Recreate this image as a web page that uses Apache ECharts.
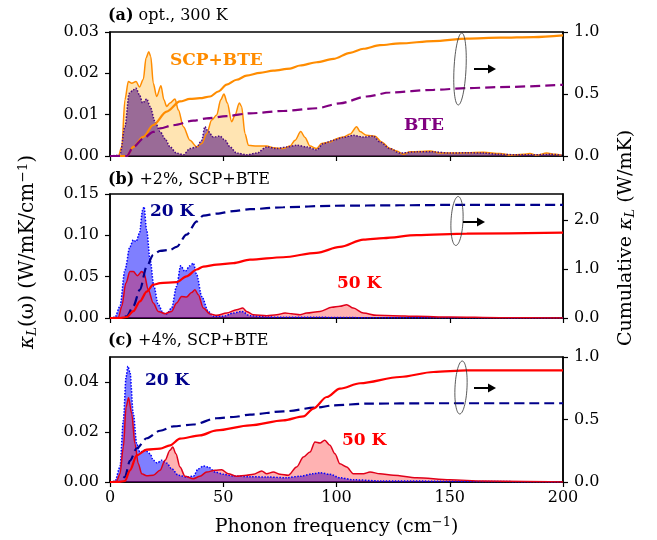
<!DOCTYPE html>
<html>
<head>
<meta charset="utf-8">
<script src="https://cdn.jsdelivr.net/npm/echarts@6/dist/echarts.min.js"></script>
<style>
  html, body { margin: 0; padding: 0; background: #fff; }
  #main { width: 657px; height: 540px; }
</style>
</head>
<body>
<div id="main"></div>
<script>
// x 轴：声子频率 (cm^-1)
var xTicks = [0, 50, 100, 150, 200];

// (a) opt., 300 K —— 谱分辨热导
var specA_scp = [[0,0],[3.7,0],[5.2,0.0022],[6.6,0.0136],[8.1,0.0180],[9.6,0.0176],[11.5,0.0180],[13.0,0.0167],[14.7,0.0185],[15.9,0.0237],[17.1,0.0252],[18.0,0.0241],[19.1,0.0176],[20.6,0.0144],[22.5,0.0170],[23.8,0.0136],[25.0,0.0120],[26.5,0.0128],[28.7,0.0138],[30.2,0.0111],[32.4,0.0071],[35.3,0.0038],[38.3,0.0022],[40.5,0.0030],[42.7,0.0054],[44.9,0.0087],[47.1,0.0099],[48.9,0.0136],[50.3,0.0150],[51.8,0.0128],[53.7,0.0083],[55.2,0.0099],[57.1,0.0128],[58.1,0.0120],[59.6,0.0054],[61.1,0.0026],[64.8,0.0024],[69.2,0.0024],[72.1,0.0020],[76.5,0.0018],[79.5,0.0024],[81.7,0.0038],[84.2,0.0059],[86.1,0.0045],[88.3,0.0024],[91.2,0.0018],[93.4,0.0030],[97.1,0.0034],[100.1,0.0042],[103.0,0.0046],[106.0,0.0053],[108.9,0.0071],[110.4,0.0059],[113.3,0.0050],[117.0,0.0048],[119.9,0.0034],[123.6,0.0018],[126.6,0.0012],[129.5,0.0004],[132.5,0.0010],[136.9,0.0011],[141.3,0.0012],[145.7,0.0007],[151.6,0.0007],[157.5,0.0008],[164.8,0.0009],[172.2,0.0006],[176.6,0.0002],[182.5,0.0004],[185.4,0.0006],[188.4,0.0002],[192.8,0.0007],[196.5,0.0004],[199.4,0.0002]];
var specA_bte = [[0,0],[4.4,0.0002],[6.6,0.0071],[8.5,0.0152],[10.3,0.0160],[11.5,0.0164],[13.0,0.0148],[14.4,0.0128],[16.2,0.0138],[17.7,0.0120],[19.9,0.0083],[22.1,0.0059],[24.3,0.0042],[26.5,0.0022],[29.4,0.0007],[32.4,0.0003],[35.3,0.0018],[38.3,0.0022],[40.5,0.0038],[41.9,0.0071],[43.4,0.0059],[45.6,0.0046],[48.6,0.0048],[50.8,0.0038],[53.0,0.0022],[55.9,0.0007],[60.3,0.0003],[64.8,0.0007],[69.2,0.0022],[73.6,0.0018],[78.0,0.0022],[82.4,0.0026],[86.8,0.0022],[91.2,0.0015],[94.2,0.0030],[98.6,0.0038],[103.0,0.0045],[107.4,0.0050],[111.9,0.0046],[116.3,0.0048],[119.2,0.0034],[123.6,0.0018],[128.0,0.0007],[135.4,0.0010],[142.8,0.0010],[150.1,0.0007],[157.5,0.0008],[164.8,0.0007],[172.2,0.0004],[179.5,0.0003],[187.0,0.0003],[194.3,0.0004],[199.4,0.0002]];
// (a) 累积热导
var cumA_scp = [[0,0],[7.4,0],[10.3,0.073],[14.7,0.154],[19.1,0.25],[25.0,0.358],[30.9,0.44],[35.3,0.46],[39.7,0.466],[44.2,0.48],[47.8,0.52],[51.5,0.575],[55.9,0.615],[60.3,0.648],[66.2,0.67],[72.1,0.688],[79.5,0.705],[83.9,0.73],[91.2,0.756],[98.6,0.783],[106,0.832],[111.9,0.865],[119.2,0.894],[128,0.908],[142.8,0.927],[157.5,0.946],[172.2,0.954],[187,0.959],[200,0.973]];
var cumA_bte = [[0,0],[7.4,0],[10.3,0.073],[14.7,0.141],[19.1,0.195],[22.1,0.222],[28,0.249],[36.8,0.285],[42.7,0.303],[51.5,0.322],[61.8,0.344],[76.5,0.363],[91.2,0.385],[101.5,0.425],[113.3,0.48],[123.6,0.512],[142.8,0.534],[157.5,0.547],[172.2,0.556],[200,0.574]];

// (b) +2%
var specB_20 = [[0,0],[2.2,0.0008],[4.4,0.0141],[6.6,0.0582],[8.8,0.0863],[10.3,0.0944],[11.5,0.0924],[13.0,0.1024],[14.4,0.1305],[15.0,0.1345],[16.2,0.1064],[17.7,0.0703],[19.4,0.0382],[21.3,0.0161],[23.5,0.0060],[25.0,0.0048],[27.2,0.0120],[29.4,0.0382],[31.2,0.0631],[33.1,0.0562],[35.3,0.0631],[36.8,0.0663],[38.3,0.0522],[40.5,0.0261],[43.4,0.0080],[45.6,0.0020],[50,0.0020],[54.5,0.0060],[58.1,0.0080],[61.8,0.0028],[69.2,0.0012],[76.5,0.0008],[91.2,0.0008],[113.3,0.0004],[200,0]];
var specB_50 = [[0,0],[3.7,0.0008],[5.2,0.0141],[7.0,0.0422],[8.8,0.0562],[10.3,0.0562],[12.1,0.0510],[14.0,0.0562],[15.0,0.0542],[16.9,0.0341],[19.1,0.0181],[21.3,0.0080],[24.3,0.0052],[27.2,0.0080],[29.4,0.0181],[31.6,0.0261],[33.8,0.0253],[36.0,0.0309],[37.5,0.0341],[39.0,0.0281],[41.2,0.0120],[44.2,0.0048],[47.1,0.0032],[51.5,0.0060],[55.9,0.0100],[58.6,0.0120],[60.3,0.0080],[63.3,0.0040],[69.2,0.0028],[73.6,0.0040],[77.3,0.0060],[80.2,0.0052],[83.9,0.0040],[86.8,0.0060],[92.7,0.0080],[97.9,0.0129],[101.5,0.0141],[104.5,0.0161],[107.4,0.0120],[111.9,0.0060],[117.7,0.0032],[125.1,0.0028],[135.4,0.0020],[150.1,0.0012],[172,0.0004],[200,0]];
var cumB_20 = [[0,0],[4.4,0],[7.4,0.034],[10.3,0.24],[13.2,0.58],[16.2,1.05],[19.1,1.29],[22.1,1.37],[26.5,1.39],[29.4,1.45],[33.8,1.70],[38.3,1.97],[41.2,2.09],[47.1,2.13],[54.5,2.18],[61.8,2.22],[76.5,2.26],[98.6,2.29],[128,2.30],[157.5,2.31],[200,2.31]];
var cumB_50 = [[0,0],[4.4,0],[7.4,0.02],[10.3,0.14],[13.2,0.34],[16.2,0.54],[19.1,0.68],[22.1,0.71],[29.4,0.73],[33.8,0.85],[38.3,0.99],[41.2,1.05],[47.1,1.09],[54.5,1.12],[61.8,1.19],[76.5,1.24],[91.2,1.33],[101.5,1.45],[111.9,1.60],[120.7,1.63],[135.4,1.69],[157.5,1.72],[200,1.74]];

// (c) +4%
var specC_20 = [[0,0],[2.2,0.0003],[4.4,0.0060],[5.9,0.0247],[7.1,0.0420],[7.9,0.0463],[8.8,0.0440],[10.3,0.0273],[11.8,0.0153],[13.2,0.0120],[15.5,0.0127],[17.7,0.0113],[19.1,0.0087],[20.9,0.0076],[22.8,0.0087],[25.0,0.0076],[27.2,0.0053],[30.2,0.0027],[33.8,0.0020],[36.8,0.0023],[39.0,0.0053],[41.2,0.0064],[43.4,0.0060],[46.4,0.0040],[50,0.0031],[54.5,0.0024],[61.8,0.0021],[69.2,0.0020],[78,0.0017],[83.9,0.0023],[89.8,0.0033],[92.7,0.0037],[97.1,0.0031],[101.5,0.0017],[107.4,0.0009],[120,0.0004],[200,0]];
var specC_50 = [[0,0],[2.9,0.0003],[4.4,0.0033],[5.9,0.0140],[7.1,0.0300],[8.2,0.0337],[9.6,0.0273],[11.0,0.0153],[12.5,0.0073],[14.0,0.0033],[16.2,0.0025],[19.1,0.0027],[22.1,0.0047],[24.3,0.0087],[26.5,0.0127],[27.7,0.0140],[29.1,0.0113],[30.9,0.0060],[33.1,0.0023],[36.8,0.0013],[39.7,0.0023],[42.7,0.0040],[46.4,0.0047],[49.3,0.0049],[52.2,0.0033],[55.9,0.0023],[60.3,0.0027],[63.3,0.0031],[67.0,0.0044],[69.2,0.0033],[72.1,0.0040],[75.1,0.0031],[78.7,0.0027],[82.4,0.0060],[85.4,0.0100],[88.3,0.0120],[90.5,0.0160],[92.7,0.0156],[94.8,0.0167],[97.1,0.0147],[99.3,0.0113],[101.5,0.0073],[104.5,0.0060],[107.4,0.0033],[111.9,0.0033],[114.8,0.0040],[119.2,0.0033],[125.1,0.0027],[135.4,0.0017],[150.1,0.0009],[164.8,0.0004],[200,0]];
var cumC_20 = [[0,0],[3.7,0],[6.6,0.04],[8.8,0.17],[11.8,0.27],[16.2,0.35],[22.1,0.41],[28,0.445],[36.8,0.46],[47.1,0.51],[54.5,0.52],[61.8,0.539],[76.5,0.565],[91.2,0.595],[98.6,0.613],[113.3,0.627],[142.8,0.63],[200,0.63]];
var cumC_50 = [[0,0],[3.7,0],[6.6,0.008],[8.8,0.093],[11.8,0.213],[16.2,0.259],[22.1,0.267],[26.5,0.293],[30.9,0.347],[39.7,0.373],[47.1,0.413],[61.8,0.453],[76.5,0.493],[85.4,0.525],[89.8,0.587],[95.7,0.68],[101.5,0.747],[110.4,0.79],[128,0.84],[142.8,0.88],[157.5,0.893],[200,0.893]];

// y 轴刻度
var leftTicksA = [0, 0.01, 0.02, 0.03];
var rightTicksA = [0, 0.5, 1.0];
var leftTicksB = [0, 0.05, 0.10, 0.15];
var rightTicksB = [0, 1.0, 2.0];
var leftTicksC = [0, 0.02, 0.04];
var rightTicksC = [0, 0.5, 1.0];

var FONT = 'DejaVu Serif';
var DASH = [10, 5];
var myChart = echarts.init(document.getElementById('main'));

var grids = [
	{ left: 110, width: 453, top: 32, height: 124 },
	{ left: 110, width: 453, top: 194, height: 124 },
	{ left: 110, width: 453, top: 357, height: 125 }
];
grids.forEach(function (g) {
	g.show = true;
	g.borderColor = '#000';
	g.borderWidth = 1.5;
});

function xAx(i, withLabel) {
	var ax = {
		type: 'value', gridIndex: i, min: 0, max: 200, interval: 50,
		axisLine: { lineStyle: { color: '#000', width: 1.5 } },
		axisTick: { length: 5, customValues: xTicks, lineStyle: { color: '#000', width: 1.2 } },
		axisLabel: { show: withLabel, margin: 8, color: '#000', fontFamily: FONT, fontSize: 16 },
		splitLine: { show: false }
	};
	if (withLabel) {
		ax.name = 'Phonon frequency (cm{sup|−1})';
		ax.nameLocation = 'middle';
		ax.nameGap = 34;
		ax.nameTextStyle = { color: '#000', fontFamily: FONT, fontSize: 19,
			rich: { sup: { fontFamily: FONT, fontSize: 13, padding: [0, 0, 9, 0], color: '#000' } } };
	}
	return ax;
}

function yAx(i, pos, max, ticks, digits) {
	return {
		type: 'value', gridIndex: i, position: pos, min: 0, max: max,
		axisLine: { show: true, lineStyle: { color: '#000', width: 1.5 } },
		axisTick: { length: 5, customValues: ticks, lineStyle: { color: '#000', width: 1.2 } },
		axisLabel: { customValues: ticks, margin: 11, color: '#000', fontFamily: FONT, fontSize: 16,
			formatter: function (v) { return v.toFixed(digits); } },
		splitLine: { show: false }
	};
}

var yAxes = [
	yAx(0, 'left', 0.03, leftTicksA, 2),
	yAx(0, 'right', 1.0, rightTicksA, 1),
	yAx(1, 'left', 0.15, leftTicksB, 2),
	yAx(1, 'right', 2.53, rightTicksB, 1),
	yAx(2, 'left', 0.05, leftTicksC, 2),
	yAx(2, 'right', 1.0, rightTicksC, 1)
];

function spec(data, xi, yi, lineColor, lineType, lineWidth, fill) {
	return {
		type: 'line', data: data, xAxisIndex: xi, yAxisIndex: yi,
		showSymbol: false, smooth: 0.3, smoothMonotone: 'x', silent: true,
		lineStyle: { color: lineColor, type: lineType, width: lineWidth },
		areaStyle: { color: fill, opacity: 1 }
	};
}
function cum(data, xi, yi, color, lineType) {
	return {
		type: 'line', data: data, xAxisIndex: xi, yAxisIndex: yi, z: 5,
		showSymbol: false, smooth: 0.3, smoothMonotone: 'x', silent: true,
		lineStyle: { color: color, type: lineType, width: 2.2 }
	};
}

var series = [
	spec(specA_scp, 0, 0, '#ff8c00', 'solid', 1.5, 'rgba(255,165,0,0.3)'),
	spec(specA_bte, 0, 0, '#4b0a82', 'dotted', 1.5, 'rgba(87,27,133,0.6)'),
	cum(cumA_scp, 0, 1, '#ff8c00', 'solid'),
	cum(cumA_bte, 0, 1, '#800080', DASH),

	spec(specB_20, 1, 2, '#0000ff', 'dotted', 1.5, 'rgba(0,0,255,0.5)'),
	spec(specB_50, 1, 2, '#e0001a', 'solid', 1.5, 'rgba(255,0,0,0.3)'),
	cum(cumB_20, 1, 3, '#00008b', DASH),
	cum(cumB_50, 1, 3, '#ff0000', 'solid'),

	spec(specC_20, 2, 4, '#0000ff', 'dotted', 1.5, 'rgba(0,0,255,0.5)'),
	spec(specC_50, 2, 4, '#e0001a', 'solid', 1.5, 'rgba(255,0,0,0.3)'),
	cum(cumC_20, 2, 5, '#00008b', DASH),
	cum(cumC_50, 2, 5, '#ff0000', 'solid')
];

function label(txt, x, y, color) {
	return { type: 'text', x: x, y: y, z: 100,
		style: { text: txt, fill: color, font: 'bold 17px "' + FONT + '"', textAlign: 'left', textVerticalAlign: 'middle' } };
}
function title(tag, rest, y) {
	return { type: 'text', x: 108, y: y, z: 100,
		style: { text: '{b|' + tag + '} ' + rest, fill: '#000', font: '16px "' + FONT + '"', textVerticalAlign: 'middle',
			rich: { b: { fontWeight: 'bold', fontFamily: FONT, fontSize: 16, fill: '#000' } } } };
}
// 竖排坐标轴标题
function vName(txt, x, y, size) {
	return { type: 'text', x: x, y: y, rotation: Math.PI / 2, z: 100,
		style: { text: txt, fill: '#000', font: size + 'px "' + FONT + '"', textAlign: 'center', textVerticalAlign: 'middle',
			rich: {
				t: { fontFamily: FONT, fontSize: size, fill: '#000' },
				it: { fontFamily: FONT, fontSize: size, fontStyle: 'italic', fill: '#000' },
				sub: { fontFamily: FONT, fontSize: size * 0.68, fontStyle: 'italic', padding: [9, 0, 0, 0], fill: '#000' },
				sup: { fontFamily: FONT, fontSize: size * 0.68, padding: [0, 0, 10, 0], fill: '#000' }
			} } };
}
// 椭圆 + 箭头：指向右轴
function loopArrow(cx, cy, ry, ax, ay) {
	return [
		{ type: 'ellipse', z: 100, shape: { cx: cx, cy: cy, rx: 6, ry: ry }, rotation: -0.05, originX: cx, originY: cy,
			style: { fill: 'none', stroke: '#333', lineWidth: 0.8 } },
		{ type: 'line', z: 100, shape: { x1: ax, y1: ay, x2: ax + 16, y2: ay }, style: { stroke: '#000', lineWidth: 2 } },
		{ type: 'polygon', z: 100, shape: { points: [[ax + 14, ay - 4.5], [ax + 22, ay], [ax + 14, ay + 4.5]] }, style: { fill: '#000' } }
	];
}

var graphics = [
	title('(a)', 'opt., 300 K', 16),
	title('(b)', '+2%, SCP+BTE', 180),
	title('(c)', '+4%, SCP+BTE', 341),
	label('SCP+BTE', 170, 61, '#ff8c00'),
	label('BTE', 404, 126, '#800080'),
	label('20 K', 150, 212, '#00008b'),
	label('50 K', 337, 284, '#ff0000'),
	label('20 K', 145, 381, '#00008b'),
	label('50 K', 342, 441, '#ff0000'),
	vName('{it|κ}{sub|L}{t|(ω) (W/mK/cm}{sup|−1}{t|)}', 28, 252, 20),
	vName('{t|Cumulative }{it|κ}{sub|L}{t| (W/mK)}', 626, 238, 19)
].concat(loopArrow(460, 69, 36, 474, 69), loopArrow(457, 221, 24.5, 463, 222), loopArrow(461, 387.5, 26.5, 474, 388));

var option = {
	animation: false,
	backgroundColor: '#fff',
	textStyle: { fontFamily: FONT },
	grid: grids,
	xAxis: [xAx(0, false), xAx(1, false), xAx(2, true)],
	yAxis: yAxes,
	series: series,
	graphic: graphics
};
myChart.setOption(option);
</script>
</body>
</html>
